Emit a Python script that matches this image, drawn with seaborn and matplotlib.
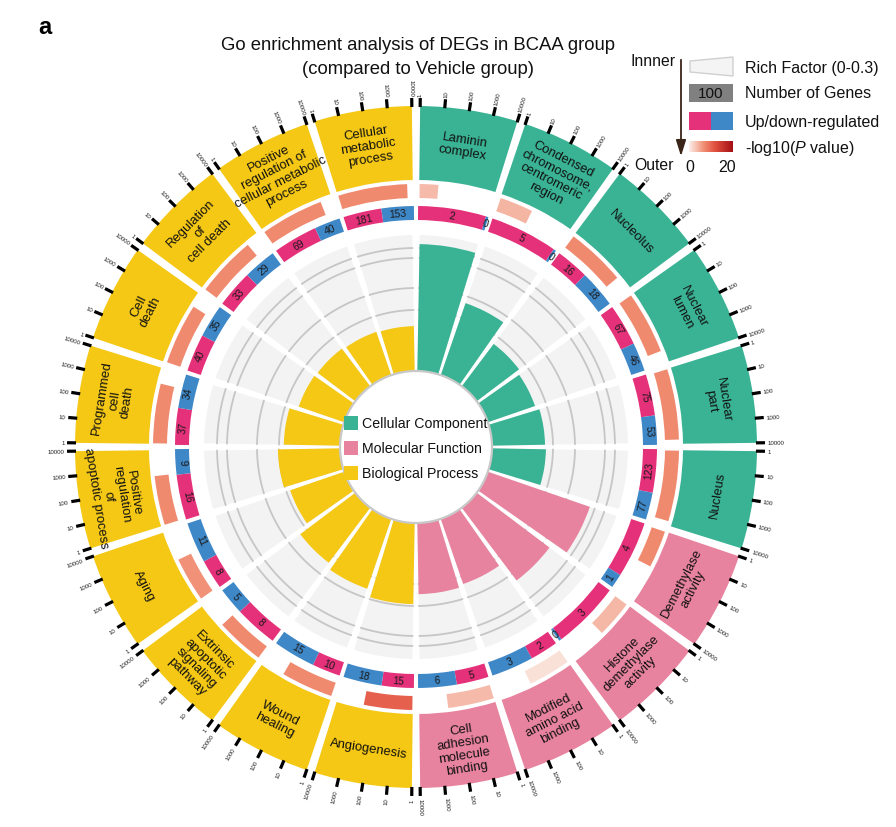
import numpy as np
import matplotlib
matplotlib.use("Agg")
import matplotlib.pyplot as plt
import seaborn as sns
from matplotlib.colors import LinearSegmentedColormap
from matplotlib.patches import Rectangle, Polygon

# ---------------- data (clockwise from 12 o'clock) ----------------
terms = ["Laminin\ncomplex", "Condensed\nchromosome,\ncentromeric\nregion", "Nucleolus",
         "Nuclear\nlumen", "Nuclear\npart", "Nucleus",
         "Demethylase\nactivity", "Histone\ndemethylase\nactivity",
         "Modified\namino acid\nbinding", "Cell\nadhesion\nmolecule\nbinding",
         "Angiogenesis", "Wound\nhealing", "Extrinsic\napoptotic\nsignaling\npathway",
         "Aging", "Positive\nregulation\nof\napoptotic process", "Programmed\ncell\ndeath",
         "Cell\ndeath", "Regulation\nof\ncell death",
         "Positive\nregulation of\ncellular metabolic\nprocess", "Cellular\nmetabolic\nprocess"]
categories = ["CC"] * 6 + ["MF"] * 4 + ["BP"] * 10
up_genes = [2, 5, 16, 67, 75, 123, 4, 3, 2, 5, 15, 10, 8, 8, 16, 37, 40, 33, 69, 181]
down_genes = [0, 0, 18, 46, 53, 77, 1, 0, 3, 6, 18, 15, 5, 11, 9, 34, 35, 29, 40, 153]
rich_factor = [0.280, 0.168, 0.117, 0.110, 0.117, 0.119, 0.238, 0.201, 0.152, 0.157,
               0.179, 0.163, 0.152, 0.126, 0.137, 0.124, 0.106, 0.104, 0.101, 0.099]
term_size = [10, 63, 1600, 2300, 6300, 6300, 100, 100, 190, 300,
             400, 630, 400, 250, 440, 1600, 1900, 1900, 2500, 5300]
neg_log10_p = [3.6, 4.0, 7, 7, 7, 7, 7, 3.8, 1.0, 3.6,
               10.5, 7, 7, 6.5, 7, 7, 7, 7, 7, 7]
tick_labels = ["1", "10", "100", "1000", "10000"]
category_names = {"CC": "Cellular Component", "MF": "Molecular Function", "BP": "Biological Process"}
category_colors = {"CC": "#3ab395", "MF": "#e8839f", "BP": "#f5c815"}
up_color, down_color = "#e5307a", "#3f88c8"

# ---------------- style ----------------
sns.set_theme(style="white")
plt.rcParams['font.family'] = ['Liberation Sans', 'DejaVu Sans']
plt.rcParams['mathtext.fontset'] = 'custom'
plt.rcParams['mathtext.rm'] = 'Liberation Sans'
plt.rcParams['mathtext.it'] = 'Liberation Sans:italic'
p_cmap = LinearSegmentedColormap.from_list(
    "pv", [(0, "#fbeee9"), (0.35, "#f08a6e"), (0.6, "#e0503f"), (1.0, "#a50f15")])

W, H = 896, 828
fig = plt.figure(figsize=(W / 100, H / 100), dpi=100)
cx, cy, R = 416, 448, 420
ax = fig.add_axes([(cx - R) / W, (H - cy - R) / H, 2 * R / W, 2 * R / H], projection='polar')
ax.set_theta_zero_location('N')
ax.set_theta_direction(-1)
ax.set_ylim(0, R)
ax.set_axis_off()
ax.patch.set_alpha(0)

# ring radii (px)
r_c, r_bg = 76, 212
r_ud0, r_ud1 = 227, 241
r_p0, r_p1 = 249, 263
r_l0, r_l1 = 267, 341
grid_r = [137, 159, 189, 199]
gap_in, gap_ud, gap_p, gap_l = 2.0, 1.0, 1.6, 1.4
sec = 360 / len(terms)


def tang_rot(d):
    d = d % 360
    return 180 - d if 90 < d < 270 else -d


def rad_rot(d):
    a = (90 - d) % 360
    if 90 < a < 270:
        return a - 180, 'right'
    return a, 'left'


D = np.deg2rad
for i, t in enumerate(terms):
    s = i * sec
    mid = s + sec / 2
    col = category_colors[categories[i]]
    # inner background + rich factor bar
    ax.bar(D(mid), r_bg - r_c, width=D(sec - gap_in), bottom=r_c, color="#f3f3f3",
           edgecolor='none', linewidth=0, zorder=1)
    th = np.linspace(D(s + gap_in / 2), D(s + sec - gap_in / 2), 40)
    for gr in grid_r:
        ax.plot(th, np.full_like(th, gr), color="#c6c6c6", lw=1.3, zorder=1.5)
    r_rf = r_c + rich_factor[i] / 0.3 * (r_bg - r_c)
    ax.bar(D(mid), r_rf - r_c, width=D(sec - gap_in), bottom=r_c, color=col,
           edgecolor='none', linewidth=0, zorder=2)
    # up / down ring
    span = sec - gap_ud
    tot = up_genes[i] + down_genes[i]
    w_up = span * up_genes[i] / tot
    w_dn = span * down_genes[i] / tot
    minw = 0.6
    if w_dn < minw:
        w_dn = minw; w_up = span - minw
    if w_up < minw:
        w_up = minw; w_dn = span - minw
    a0 = s + gap_ud / 2
    for val, w, c in [(up_genes[i], w_up, up_color), (down_genes[i], w_dn, down_color)]:
        ax.bar(D(a0), r_ud1 - r_ud0, width=D(w), bottom=r_ud0, color=c, align='edge',
               edgecolor='none', linewidth=0, zorder=2)
        am = a0 + w / 2
        ax.text(D(am), (r_ud0 + r_ud1) / 2, str(val), rotation=tang_rot(am),
                rotation_mode='anchor', ha='center', va='center', fontsize=7.5,
                color="#1a1a1a", zorder=3)
        a0 += w
    # -log10 p ring (length: term size on log scale)
    frac = np.log10(term_size[i]) / 4
    ax.bar(D(s + gap_p / 2), r_p1 - r_p0, width=D((sec - gap_p) * frac), bottom=r_p0,
           align='edge', color=p_cmap(neg_log10_p[i] / 20), edgecolor='none', linewidth=0, zorder=2)
    # label ring
    ax.bar(D(mid), r_l1 - r_l0, width=D(sec - gap_l), bottom=r_l0, color=col,
           edgecolor='none', linewidth=0, zorder=2)
    ax.text(D(mid), (r_l0 + r_l1) / 2 + 1, t, rotation=tang_rot(mid), rotation_mode='anchor',
            ha='center', va='center', fontsize=9.4, linespacing=1.1, color="#111111", zorder=3)
    # log ticks
    for k, lab in enumerate(tick_labels):
        a = s + gap_l / 2 + k / 4 * (sec - gap_l)
        ax.plot([D(a), D(a)], [r_l1 - 1, r_l1 + 8], color='black', lw=2.3,
                solid_capstyle='butt', zorder=3)
        rot, ha = rad_rot(a)
        ax.text(D(a), r_l1 + 10.5, lab, rotation=rot, rotation_mode='anchor', ha=ha,
                va='center', fontsize=4.4, color="#222222")

thc = np.linspace(0, 2 * np.pi, 400)
ax.plot(thc, np.full_like(thc, r_c), color="#c8c8c8", lw=1.6, zorder=3)

# ---------------- overlay: titles and legends ----------------
ov = fig.add_axes([0, 0, 1, 1])
ov.set_xlim(0, W)
ov.set_ylim(H, 0)
ov.set_axis_off()
ov.patch.set_alpha(0)

ov.text(38, 27, "a", fontsize=17, fontweight='bold', ha='left', va='center', color='black')
ov.text(418, 46, "Go enrichment analysis of DEGs in BCAA group", fontsize=13.3,
        ha='center', va='center', color='#111111')
ov.text(418, 70, "(compared to Vehicle group)", fontsize=13.3, ha='center', va='center',
        color='#111111')

# center legend
for j, key in enumerate(["CC", "MF", "BP"]):
    yy = 424 + j * 25
    ov.add_patch(Rectangle((344, yy - 7), 14, 14, color=category_colors[key], lw=0))
    ov.text(362, yy, category_names[key], fontsize=10.2, ha='left', va='center', color='#111111')

# right legend
ov.text(631, 62, "Innner", fontsize=11.3, ha='left', va='center', color='#111111')
ov.text(634, 165, "Outer", fontsize=11.3, ha='left', va='center', color='#111111')
ov.annotate("", xy=(681, 160), xytext=(681, 58),
            arrowprops=dict(arrowstyle="-|>,head_width=0.25,head_length=0.8",
                            color="#3b2418", lw=1.3))
ov.add_patch(Polygon([(690, 62), (733, 58), (733, 77), (690, 73)], closed=True,
                     facecolor="#f4f4f4", edgecolor="#d0d0d0", lw=1))
ov.text(745, 68, "Rich Factor (0-0.3)", fontsize=11.5, ha='left', va='center', color='#111111')
ov.add_patch(Rectangle((689, 85), 44, 18, facecolor="#808080", lw=0))
ov.text(711, 94.5, "100", fontsize=11, ha='center', va='center', color='#111111')
ov.text(745, 94, "Number of Genes", fontsize=11.5, ha='left', va='center', color='#111111')
ov.add_patch(Rectangle((689, 113), 22, 18, facecolor=up_color, lw=0))
ov.add_patch(Rectangle((711, 113), 22, 18, facecolor=down_color, lw=0))
ov.text(745, 122, "Up/down-regulated", fontsize=11.5, ha='left', va='center', color='#111111')
grad = np.linspace(0, 1, 100).reshape(1, -1)
ov.imshow(grad, cmap=p_cmap, extent=(689, 733, 153, 142), aspect='auto', zorder=2)
ov.text(745, 148, "-log10($\\mathit{P}$ value)", fontsize=11.5, ha='left', va='center',
        color='#111111')
ov.text(690, 168, "0", fontsize=11.5, ha='center', va='center', color='#111111')
ov.text(727, 168, "20", fontsize=11.5, ha='center', va='center', color='#111111')
ov.set_xlim(0, W)
ov.set_ylim(H, 0)

fig.savefig("out.png", dpi=100, facecolor='white')
